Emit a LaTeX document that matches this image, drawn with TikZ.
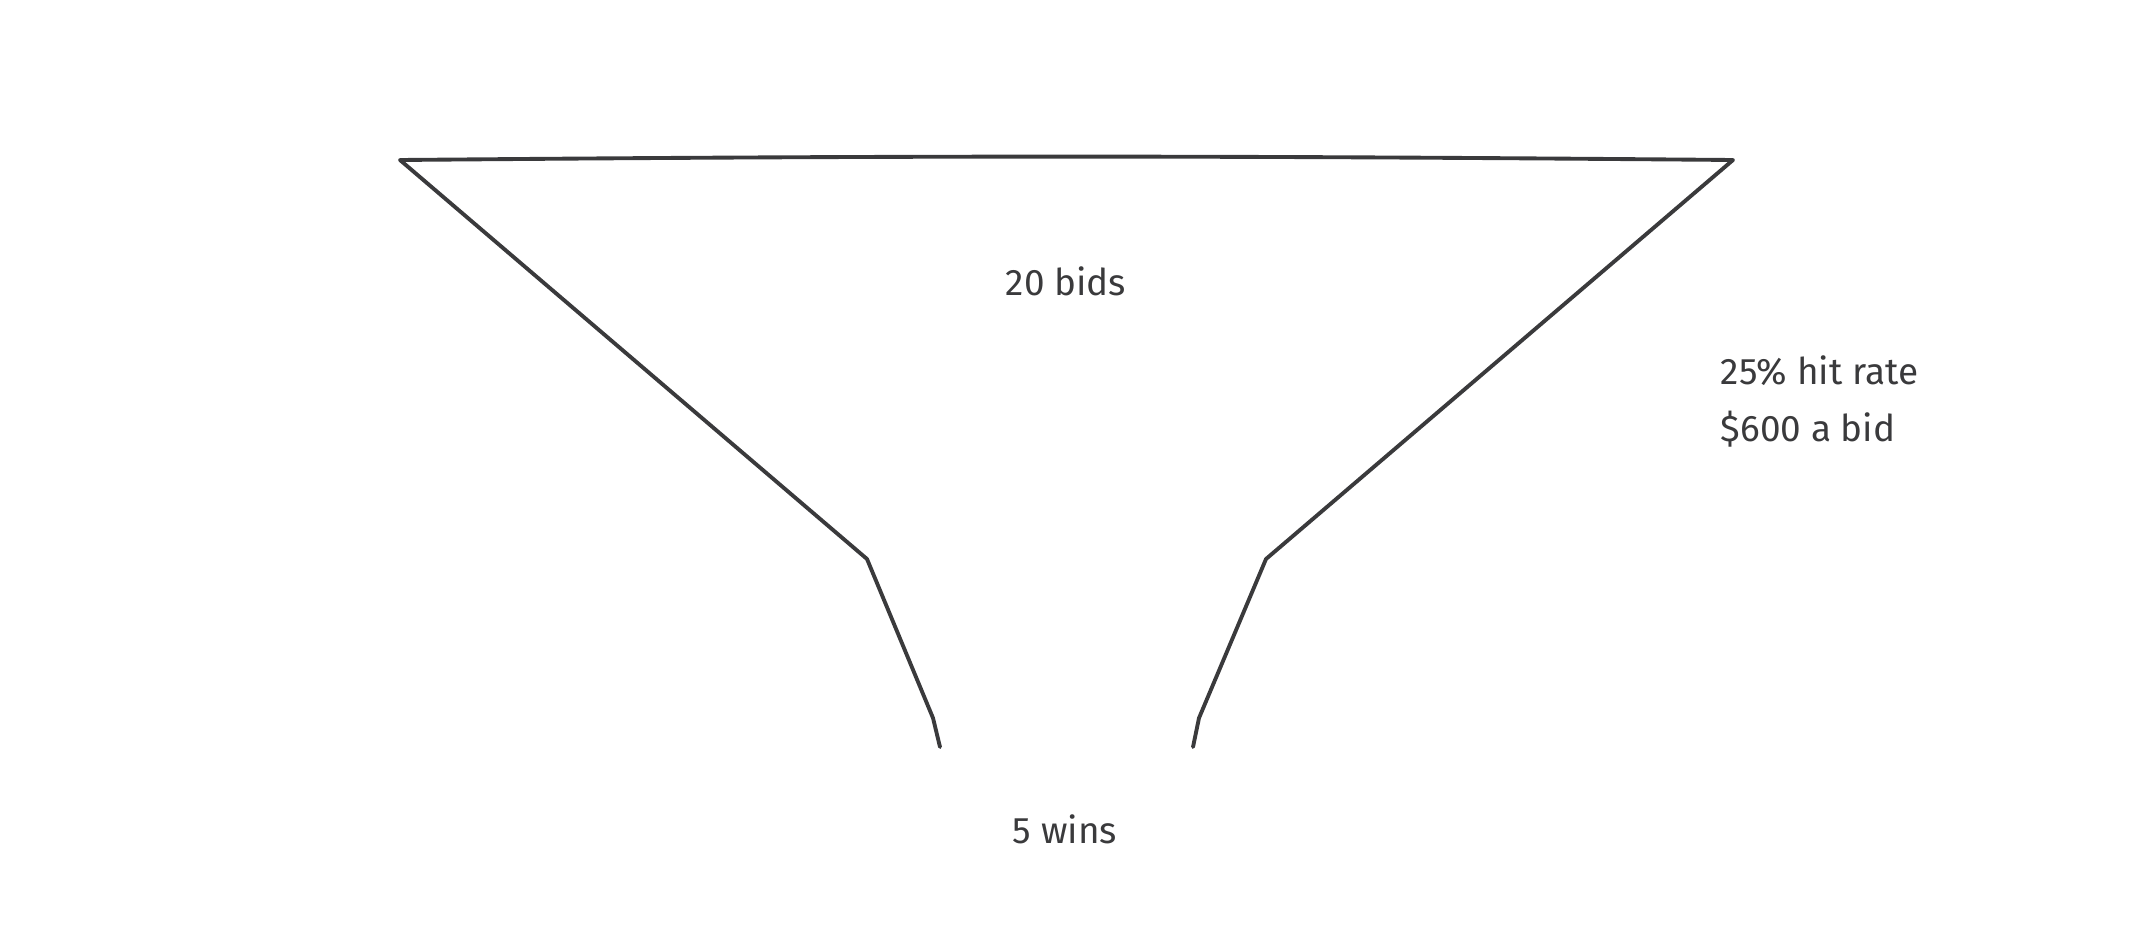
\documentclass[tikz,border=0pt]{standalone}
\usepackage{fontspec}
\setmainfont{Fira Sans}
\usepackage{tikz}

\definecolor{ink}{HTML}{3A3A3C}

\begin{document}
\begin{tikzpicture}[x=0.01cm, y=-0.01cm, line join=round, line cap=round]
\tikzset{
  rim/.style={draw=ink, line width=1.1pt},
  note/.style={text=ink, font=\fontsize{10.5}{12}\selectfont, inner sep=0pt}
}
% Frame
\useasboundingbox (0,0) rectangle (2133,933);

% Funnel corners
\coordinate (tl) at (400,160);
\coordinate (tr) at (1733,160);
\coordinate (lk) at (867,559);
\coordinate (rk) at (1266,559);
\coordinate (ll) at (933,718);
\coordinate (rl) at (1199,718);
\coordinate (le) at (940,747);
\coordinate (re) at (1193,747);

% Funnel outline
\draw[rim] (tl) to[bend left=0.5] (tr);
\draw[rim] (tl) -- (lk) -- (ll) -- (le);
\draw[rim] (tr) -- (rk) -- (rl) -- (re);

% Labels
\node[note] (bids) at (1066,281) {20 bids};
\node[note] (wins) at (1065,829) {5 wins};
\node[note, anchor=west] (rate) at (1720,371) {25\% hit rate};
\node[note, anchor=west] (cost) at (1720,429) {\$600 a bid};

\end{tikzpicture}
\end{document}
